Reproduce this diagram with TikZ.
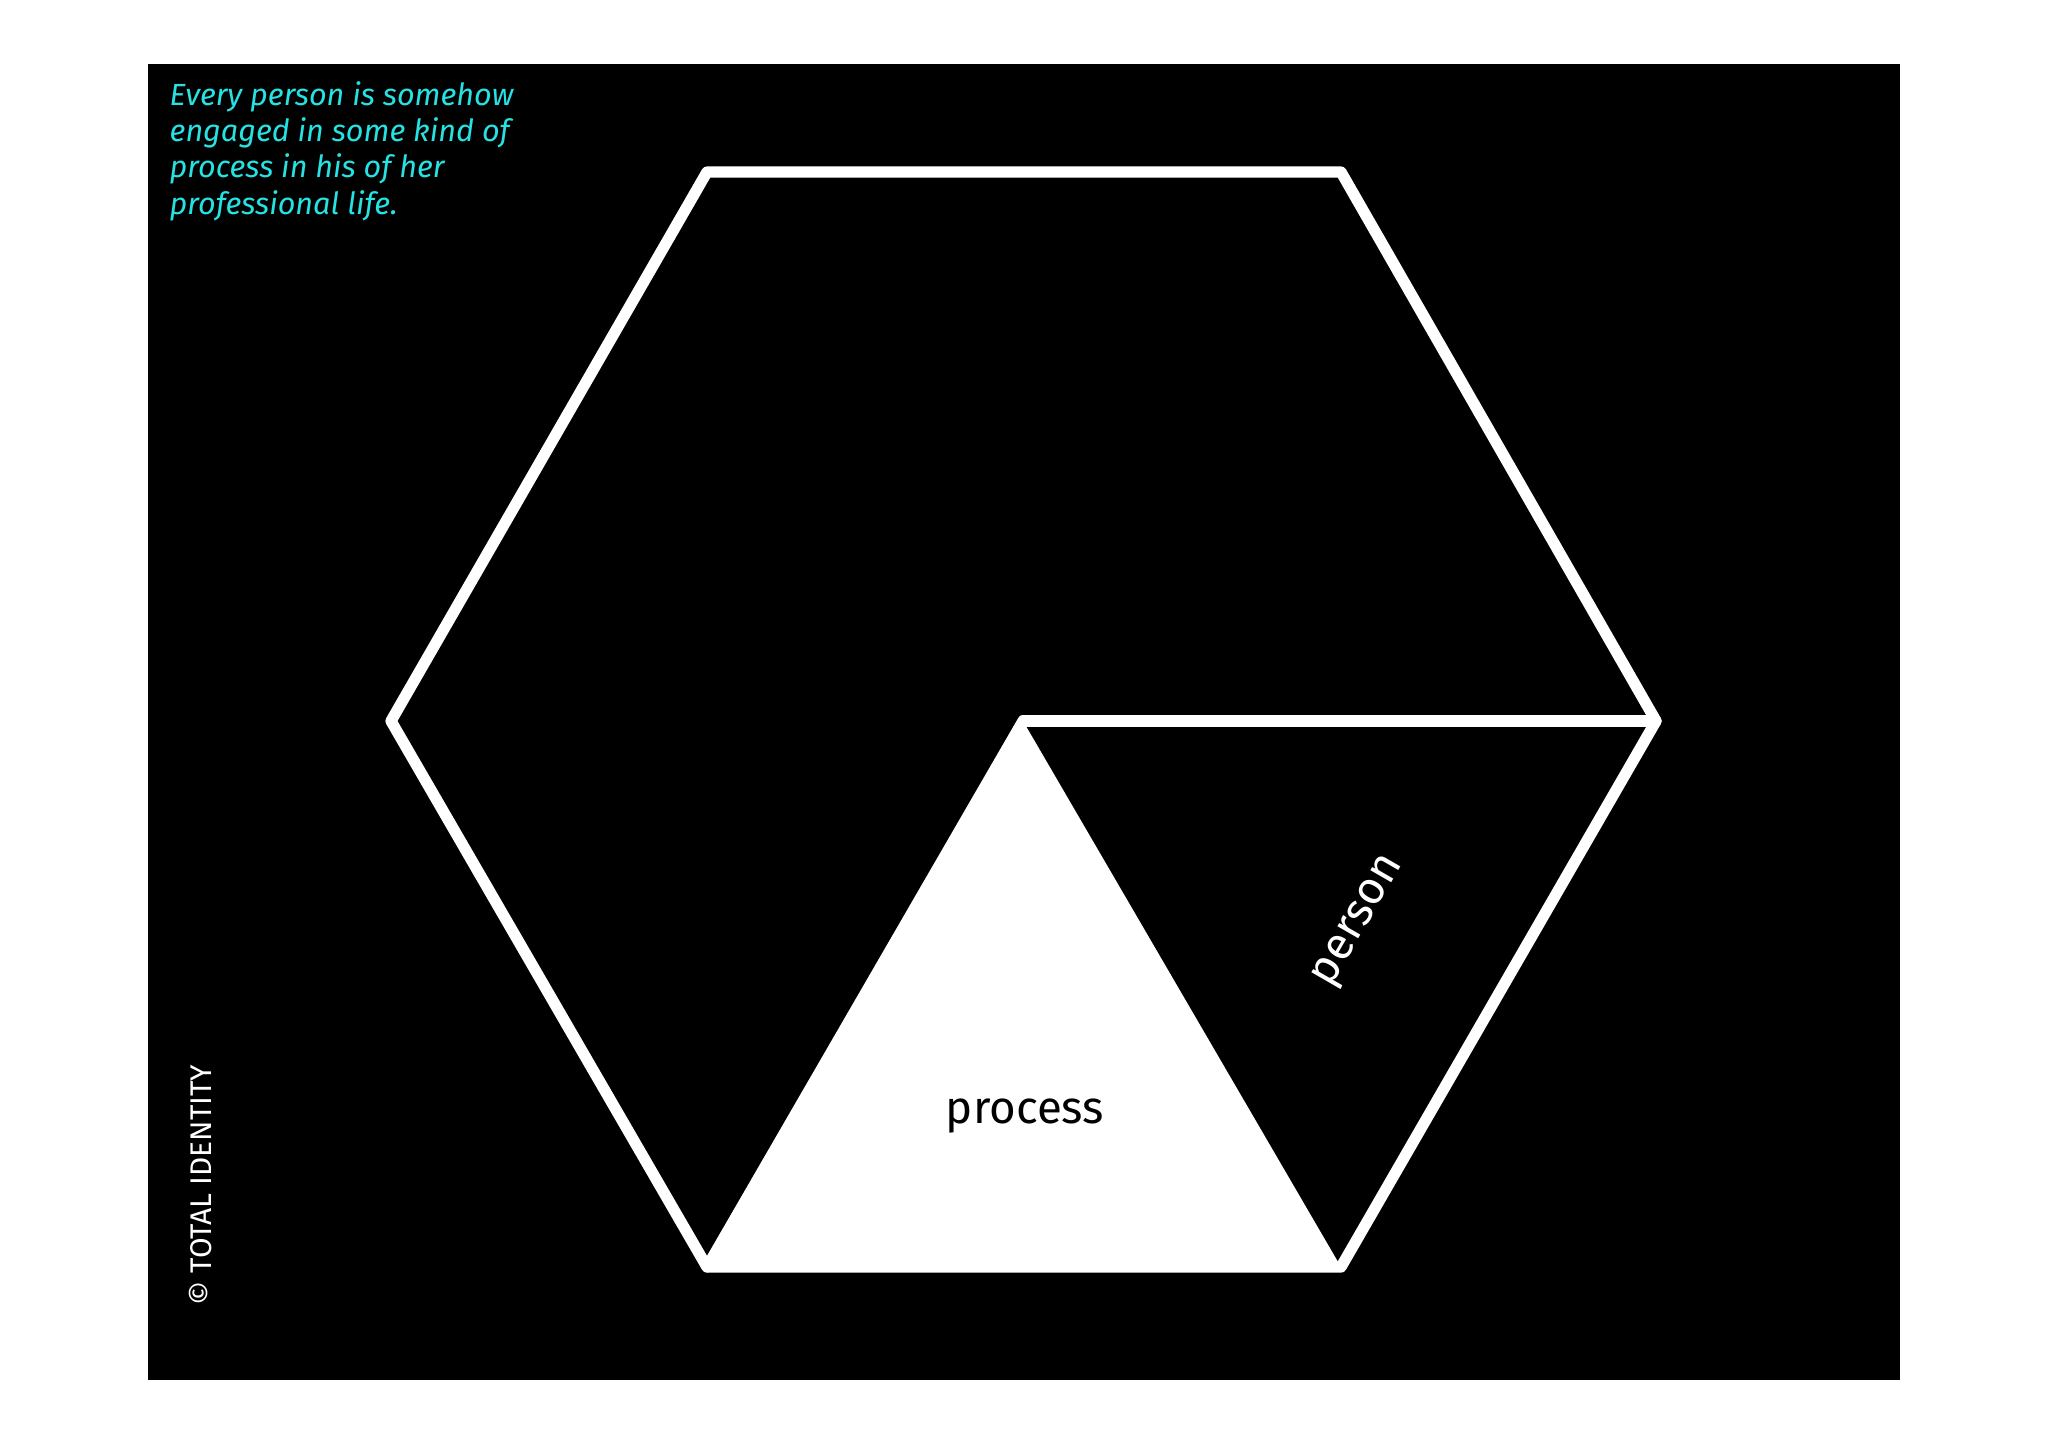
\documentclass[tikz,border=0pt]{standalone}
\usepackage{fontspec}
\setsansfont{Fira Sans}
\usetikzlibrary{positioning}
\definecolor{noteCyan}{RGB}{38,226,226}

\begin{document}
\begin{tikzpicture}[x=0.1mm, y=-0.1mm,
  rim/.style={draw=white, line width=3.2pt, line join=round, line cap=round},
  word/.style={font=\sffamily\fontsize{13pt}{15pt}\selectfont, inner sep=0pt}]
  \useasboundingbox (0,0) rectangle (2048,1447);
  \fill[black] (148,64) rectangle (1900,1380);

  % hexagon corners and the inner point
  \coordinate (tl) at (707,172);
  \coordinate (tr) at (1341,172);
  \coordinate (rt) at (1656,721);
  \coordinate (br) at (1341,1267);
  \coordinate (bl) at (707,1267);
  \coordinate (lf) at (391,721);
  \coordinate (ct) at (1023,721);

  % white triangle
  \fill[white] (ct) -- (bl) -- (br) -- cycle;
  \draw[rim] (tl) -- (tr) -- (rt) -- (br) -- (bl) -- (lf) -- cycle;
  \draw[rim] (ct) -- (rt);
  \draw[rim] (ct) -- (bl);

  % labels
  \node[word, text=black] (process) at (1025,1116) {process};
  \node[word, text=white, rotate=60] (person) at (1360,922) {person};
  \node[font=\sffamily\itshape\fontsize{8.7pt}{10.3pt}\selectfont, text=noteCyan,
        align=left, anchor=north west, inner sep=0pt] (note) at (169,81)
    {Every person is somehow\\engaged in some kind of\\process in his of her\\professional life.};
  \node[font=\sffamily\fontsize{8.5pt}{10pt}\selectfont, text=white, rotate=90,
        inner sep=0pt] (copy) at (201,1185) {© TOTAL IDENTITY};
\end{tikzpicture}
\end{document}
